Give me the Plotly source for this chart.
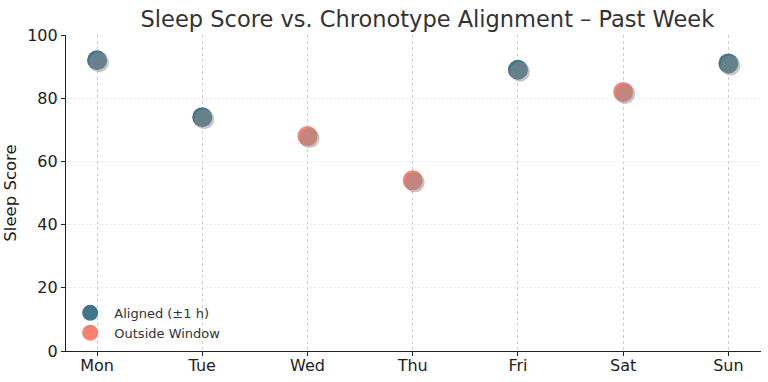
import plotly.graph_objects as go

days = ["Mon", "Tue", "Wed", "Thu", "Fri", "Sat", "Sun"]
scores = [92, 74, 68, 54, 89, 82, 91]
aligned = [True, True, False, False, True, False, True]
y_ticks = [0, 20, 40, 60, 80, 100]

teal = "#40768C"
salmon = "#FA8072"
shadow = "rgba(140,140,140,0.5)"

idx = list(range(len(days)))
al_x = [i for i in idx if aligned[i]]
al_y = [scores[i] for i in idx if aligned[i]]
out_x = [i for i in idx if not aligned[i]]
out_y = [scores[i] for i in idx if not aligned[i]]

xr = [-0.295, 6.31]
yr = [0, 100]
# pixel-based shadow offset (approx 2px right, 2px down)
dx = 2 / 105.2
dy = 2 / 3.16

fig = go.Figure()
for xs, ys in [(al_x, al_y), (out_x, out_y)]:
    fig.add_trace(go.Scatter(x=xs, y=ys, mode="markers", xaxis="x2", yaxis="y2",
                             marker=dict(size=20, color=shadow, line=dict(width=0)),
                             showlegend=False, hoverinfo="skip"))
fig.add_trace(go.Scatter(x=al_x, y=al_y, mode="markers", name="\u00a0Aligned (±1 h)",
                         marker=dict(size=20, color=teal, line=dict(width=0))))
fig.add_trace(go.Scatter(x=out_x, y=out_y, mode="markers", name="\u00a0Outside Window",
                         marker=dict(size=20, color=salmon, line=dict(width=0))))

fig.update_layout(
    width=768, height=382,
    margin=dict(l=66, r=7, t=35, b=31, autoexpand=False),
    paper_bgcolor="white", plot_bgcolor="white",
    font=dict(family="DejaVu Sans", size=14, color="#222"),
    title=dict(text="Sleep Score vs. Chronotype Alignment – Past Week",
               x=0.52, xref="paper", xanchor="center", y=0.95, yanchor="middle",
               font=dict(size=22.5, color="#333")),
    xaxis=dict(range=xr, tickmode="array", tickvals=idx, ticktext=days,
               showgrid=True, gridcolor="#cccccc", griddash="3px,3px", gridwidth=1,
               showline=True, linecolor="#222", linewidth=1.2, mirror=False,
               ticks="outside", ticklen=4, tickcolor="#222", zeroline=False,
               tickfont=dict(size=16), automargin=False, ticklabelstandoff=-4),
    yaxis=dict(range=yr, tickmode="array", tickvals=y_ticks,
               showgrid=True, gridcolor="#ebebeb", griddash="2px,2px", gridwidth=1,
               showline=True, linecolor="#222", linewidth=1.2,
               ticks="outside", ticklen=4, tickcolor="#222", zeroline=False,
               title=dict(text="Sleep Score", font=dict(size=16.5), standoff=6),
               tickfont=dict(size=16), automargin=False),
    xaxis2=dict(range=[xr[0] - dx, xr[1] - dx], overlaying="x", visible=False),
    yaxis2=dict(range=[yr[0] + dy, yr[1] + dy], overlaying="y", visible=False),
    legend=dict(x=0.006, y=0.01, xanchor="left", yanchor="bottom",
                bgcolor="rgba(255,255,255,0)", font=dict(size=13, color="#333"),
                itemsizing="trace", tracegroupgap=0),
    showlegend=True,
)

fig.write_html("out.html", config={"displayModeBar": False},
               post_script="document.body.style.margin='0';document.body.style.padding='0';")
